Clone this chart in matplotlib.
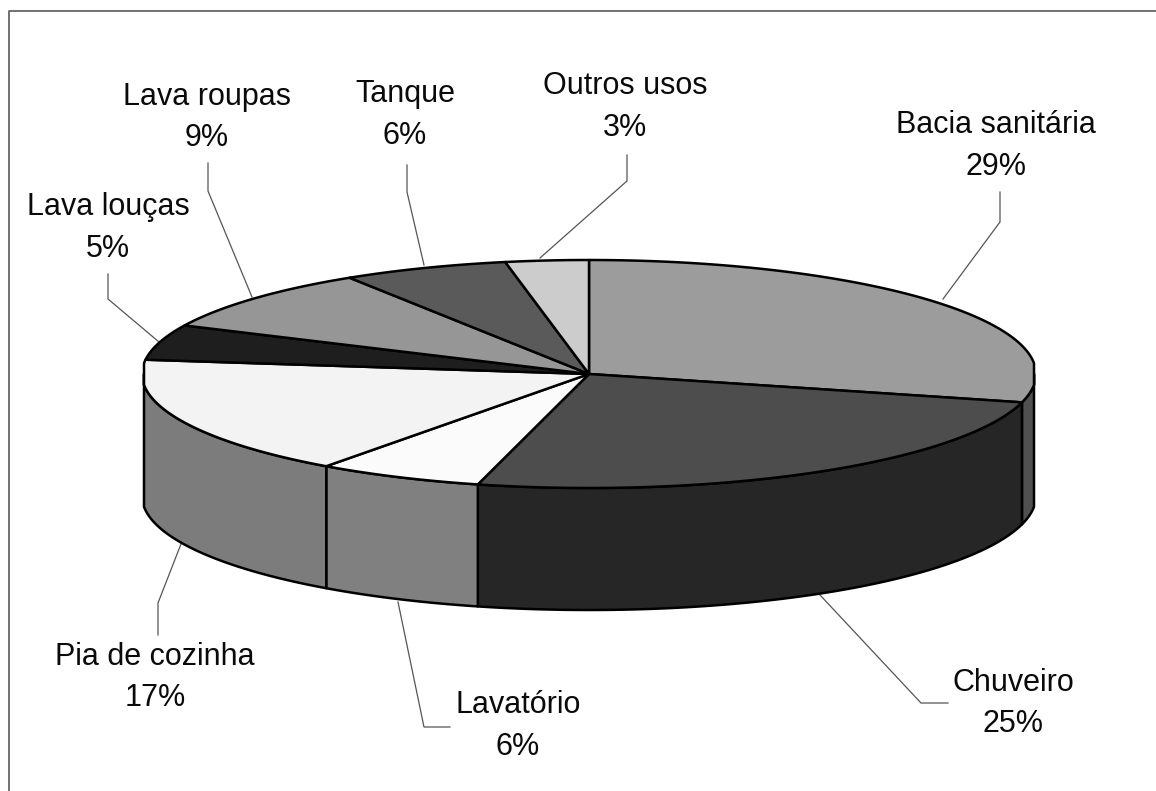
import numpy as np
import matplotlib
matplotlib.use("Agg")
import matplotlib.pyplot as plt
from matplotlib.patches import Polygon

plt.rcParams['font.family'] = ['Liberation Sans', 'DejaVu Sans']

categories = ["Bacia sanitária", "Chuveiro", "Lavatório", "Pia de cozinha",
              "Lava louças", "Lava roupas", "Tanque", "Outros usos"]
values = [29, 25, 6, 17, 5, 9, 6, 3]
top_colors = ["#9c9c9c", "#4d4d4d", "#fbfbfb", "#f3f3f3",
              "#1e1e1e", "#969696", "#5a5a5a", "#cccccc"]
side_colors = ["#505050", "#262626", "#808080", "#7c7c7c",
               "#0f0f0f", "#4b4b4b", "#2d2d2d", "#666666"]
label_pos = [(996, 123, 165), (1013, 681, 722), (518, 703, 745), (155, 655, 696),
             (108, 205, 247), (207, 95, 136), (405, 92, 134), (625, 84, 126)]
leaders = [[(1000, 192), (1000, 222), (943, 299)],
           [(948, 703), (921, 703), (820, 595)],
           [(450, 727), (424, 727), (398, 602)],
           [(158, 635), (158, 603), (181, 544)],
           [(108, 274), (108, 299), (159, 342)],
           [(208, 163), (208, 191), (252, 297)],
           [(407, 165), (407, 192), (424, 265)],
           [(627, 155), (627, 181), (540, 258)]]

W, H = 1156, 791
CX, CY, A, B, DEPTH = 589, 374, 447, 114, 122
XMIN, XMAX = 144, 1034

fig = plt.figure(figsize=(W / 100, H / 100), dpi=100, facecolor="white")
ax = fig.add_axes([0, 0, 1, 1])
ax.set_xlim(0, W)
ax.set_ylim(H, 0)
ax.axis("off")


def rim(t0, t1, dy=0.0):
    t = np.radians(np.linspace(t0, t1, max(int(abs(t1 - t0) * 3), 2)))
    x = np.clip(CX + A * np.sin(t), XMIN, XMAX)
    return np.column_stack([x, CY - B * np.cos(t) + dy])


edges = np.concatenate([[0], np.cumsum(values)]) * 360.0 / sum(values)
LW = 1.8

# side walls (front half of the rim only: 90..270 degrees clockwise from top)
for i in range(len(values)):
    t0, t1 = max(edges[i], 90), min(edges[i + 1], 270)
    if t1 <= t0:
        continue
    wall = np.vstack([rim(t0, t1), rim(t0, t1, DEPTH)[::-1]])
    ax.add_patch(Polygon(wall, closed=True, facecolor=side_colors[i],
                         edgecolor="black", linewidth=LW, joinstyle="round", zorder=2))

# top face
for i in range(len(values)):
    wedge = np.vstack([[(CX, CY)], rim(edges[i], edges[i + 1])])
    ax.add_patch(Polygon(wedge, closed=True, facecolor=top_colors[i],
                         edgecolor="black", linewidth=LW, joinstyle="round", zorder=3))

# leader lines and labels
for pts in leaders:
    xs, ys = zip(*pts)
    ax.plot(xs, ys, color="#555555", lw=0.9, zorder=1, solid_joinstyle="miter")
for name, v, (x, y1, y2) in zip(categories, values, label_pos):
    ax.text(x, y1 + 2, name, ha="center", va="center", fontsize=22, color="#0a0a0a")
    ax.text(x, y2 + 2, f"{v}%", ha="center", va="center", fontsize=22, color="#0a0a0a")

# frame
ax.plot([W, 9, 9], [11, 11, H], color="#666666", lw=1.3, zorder=1)

fig.savefig("out.png", dpi=100, facecolor="white")
